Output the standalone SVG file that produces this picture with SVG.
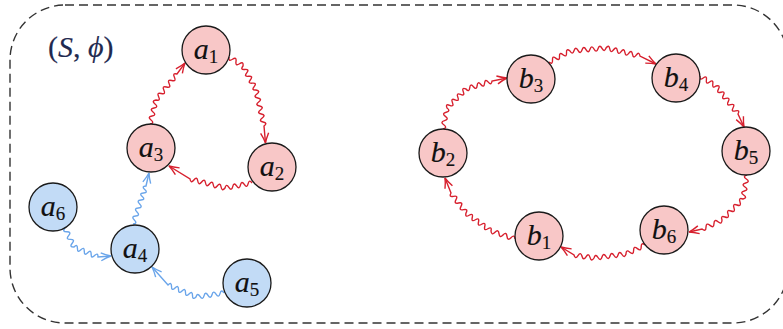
<svg xmlns="http://www.w3.org/2000/svg" width="783" height="329" viewBox="0 0 783 329">
<style>
.frame{fill:none;stroke:#333;stroke-width:1.4;stroke-dasharray:9 5}
.nr{fill:#f8c7c7;stroke:#1a1a1a;stroke-width:1.3}
.nb{fill:#c2dbf6;stroke:#1a1a1a;stroke-width:1.3}
.er{fill:none;stroke:#d7202e;stroke-width:1.4;marker-end:url(#ar)}
.eb{fill:none;stroke:#6aa5ea;stroke-width:1.4;marker-end:url(#ab)}
.lbl{font-family:"Liberation Serif","DejaVu Serif",serif;font-size:30px;font-style:italic;fill:#111;stroke:#111;stroke-width:0.15;text-anchor:middle}
.sub{font-size:19px;font-style:normal}
.title{font-family:"Liberation Serif","DejaVu Serif",serif;font-size:30px;fill:#1f2a50;stroke:#1f2a50;stroke-width:0.15}
</style>
<defs>
<marker id="ar" markerUnits="userSpaceOnUse" orient="auto" overflow="visible" markerWidth="1" markerHeight="1"><path d="M-10,-4 Q-4,-1 0,0 Q-4,1 -10,4" fill="none" stroke="#d7202e" stroke-width="1.4"/></marker>
<marker id="ab" markerUnits="userSpaceOnUse" orient="auto" overflow="visible" markerWidth="1" markerHeight="1"><path d="M-10,-4 Q-4,-1 0,0 Q-4,1 -10,4" fill="none" stroke="#6aa5ea" stroke-width="1.4"/></marker>
</defs>
<rect class="frame" x="10" y="5" width="778" height="318" rx="55" ry="55"/>
<text class="title" x="48" y="57">(<tspan font-style="italic">S</tspan>, <tspan font-style="italic">ϕ</tspan>)</text>
<g id="connectors">
<path class="er" d="M150,124 q4.96,-0.89 1,-4 t1,-4 1,-4 1,-4 1,-4 1,-4 q4.89,1.27 2.63,-3.25 t2.63,-3.25 2.63,-3.25 2.63,-3.25 2.63,-3.25 2.63,-3.25 2.63,-3.25 2.63,-3.25 L185,63"/>
<path class="er" d="M229,57 q-0.74,5 3.5,2.25 t3.5,2.25 3.5,2.25 3.5,2.25 q-3.11,3.9 1.857,3.429 t1.857,3.429 1.857,3.429 1.857,3.429 1.857,3.429 1.857,3.429 1.857,3.429 q4.93,1 0.889,4 t0.889,4 0.889,4 0.889,4 0.889,4 0.889,4 0.889,4 0.889,4 0.889,4 L265.5,143"/>
<path class="er" d="M252,183 q-2.76,-4.15 -3.857,0.714 t-3.857,0.714 -3.857,0.714 -3.857,0.714 -3.857,0.714 -3.857,0.714 -3.857,0.714 q-3.09,3.96 -3.889,-1 t-3.889,-1 -3.889,-1 -3.889,-1 -3.889,-1 -3.889,-1 -3.889,-1 -3.889,-1 -3.889,-1 L169,166"/>
<path class="eb" d="M133,224 q5.04,-0.54 1.333,-4 t1.333,-4 1.333,-4 1.333,-4 1.333,-4 1.333,-4 q4.96,-0.2 1.25,-3.5 t1.25,-3.5 1.25,-3.5 1.25,-3.5 L149,173"/>
<path class="eb" d="M65,228 q-3.25,3.87 1.8,3.8 t1.8,3.8 1.8,3.8 1.8,3.8 1.8,3.8 q3.47,-3.53 3.429,1.429 t3.429,1.429 3.429,1.429 3.429,1.429 3.429,1.429 3.429,1.429 3.429,1.429 L111,256"/>
<path class="eb" d="M224,293 q-2.65,-4.26 -4,0.571 t-4,0.571 -4,0.571 -4,0.571 -4,0.571 -4,0.571 -4,0.571 q-3.56,3.48 -3.5,-1.5 t-3.5,-1.5 -3.5,-1.5 -3.5,-1.5 -3.5,-1.5 -3.5,-1.5 -3.5,-1.5 -3.5,-1.5 L152,267"/>
<path class="er" d="M443,129 q4.91,-1.24 0.8,-4.2 t0.8,-4.2 0.8,-4.2 0.8,-4.2 0.8,-4.2 q-1.9,-4.62 2.714,-2.714 t2.714,-2.714 2.714,-2.714 2.714,-2.714 2.714,-2.714 2.714,-2.714 2.714,-2.714 q3.21,3.83 3.714,-1.143 t3.714,-1.143 3.714,-1.143 3.714,-1.143 3.714,-1.143 3.714,-1.143 3.714,-1.143 L507,78"/>
<path class="er" d="M549,62 q3.88,3.16 3.5,-1.833 t3.5,-1.833 3.5,-1.833 3.5,-1.833 3.5,-1.833 3.5,-1.833 q2.38,4.42 4,-0.333 t4,-0.333 4,-0.333 4,-0.333 4,-0.333 4,-0.333 4,-0.333 4,-0.333 4,-0.333 q2.94,-4.03 3.778,0.889 t3.778,0.889 3.778,0.889 3.778,0.889 3.778,0.889 3.778,0.889 3.778,0.889 3.778,0.889 3.778,0.889 L656,64"/>
<path class="er" d="M700,76 q-0.84,4.9 3.2,2 t3.2,2 3.2,2 3.2,2 3.2,2 q4.84,-1.28 2.444,3.111 t2.444,3.111 2.444,3.111 2.444,3.111 2.444,3.111 2.444,3.111 2.444,3.111 2.444,3.111 2.444,3.111 L744,127"/>
<path class="er" d="M747,175 q-4.87,1.25 -0.667,4 t-0.667,4 -0.667,4 -0.667,4 -0.667,4 -0.667,4 q-4.76,-1.76 -3,3 t-3,3 -3,3 -3,3 -3,3 -3,3 -3,3 q-0.11,5.09 -4,1.8 t-4,1.8 -4,1.8 -4,1.8 -4,1.8 L689,232"/>
<path class="er" d="M645,245 q-3.87,-3.25 -3.8,1.8 t-3.8,1.8 -3.8,1.8 -3.8,1.8 -3.8,1.8 q-1.42,4.81 -4,0.5 t-4,0.5 -4,0.5 -4,0.5 -4,0.5 -4,0.5 -4,0.5 -4,0.5 q-2.68,4.25 -4,-0.6 t-4,-0.6 -4,-0.6 -4,-0.6 -4,-0.6 L561,247"/>
<path class="er" d="M515,239 q-0.54,-5.04 -4,-1.333 t-4,-1.333 -4,-1.333 -4,-1.333 -4,-1.333 -4,-1.333 q1.12,-4.86 -3.125,-2.25 t-3.125,-2.25 -3.125,-2.25 -3.125,-2.25 -3.125,-2.25 -3.125,-2.25 -3.125,-2.25 -3.125,-2.25 q2.43,-4.43 -2.5,-3.333 t-2.5,-3.333 -2.5,-3.333 -2.5,-3.333 -2.5,-3.333 -2.5,-3.333 L445,178"/>
</g>
<g id="a1"><circle class="nr" cx="206" cy="50" r="24"/><text class="lbl" x="206" y="59">a<tspan class="sub" dy="4">1</tspan></text></g>
<g id="a2"><circle class="nr" cx="272" cy="167" r="24"/><text class="lbl" x="272" y="176">a<tspan class="sub" dy="4">2</tspan></text></g>
<g id="a3"><circle class="nr" cx="151" cy="148" r="24"/><text class="lbl" x="151" y="157">a<tspan class="sub" dy="4">3</tspan></text></g>
<g id="a4"><circle class="nb" cx="135" cy="249" r="24"/><text class="lbl" x="135" y="258">a<tspan class="sub" dy="4">4</tspan></text></g>
<g id="a5"><circle class="nb" cx="247" cy="283" r="24"/><text class="lbl" x="247" y="292">a<tspan class="sub" dy="4">5</tspan></text></g>
<g id="a6"><circle class="nb" cx="53" cy="207" r="24"/><text class="lbl" x="53" y="216">a<tspan class="sub" dy="4">6</tspan></text></g>
<g id="b1"><circle class="nr" cx="539" cy="236" r="24"/><text class="lbl" x="539" y="245">b<tspan class="sub" dy="4">1</tspan></text></g>
<g id="b2"><circle class="nr" cx="443" cy="153" r="24"/><text class="lbl" x="443" y="162">b<tspan class="sub" dy="4">2</tspan></text></g>
<g id="b3"><circle class="nr" cx="531" cy="79" r="24"/><text class="lbl" x="531" y="88">b<tspan class="sub" dy="4">3</tspan></text></g>
<g id="b4"><circle class="nr" cx="676" cy="78" r="24"/><text class="lbl" x="676" y="87">b<tspan class="sub" dy="4">4</tspan></text></g>
<g id="b5"><circle class="nr" cx="746" cy="151" r="24"/><text class="lbl" x="746" y="160">b<tspan class="sub" dy="4">5</tspan></text></g>
<g id="b6"><circle class="nr" cx="664" cy="230" r="24"/><text class="lbl" x="664" y="239">b<tspan class="sub" dy="4">6</tspan></text></g>
</svg>
